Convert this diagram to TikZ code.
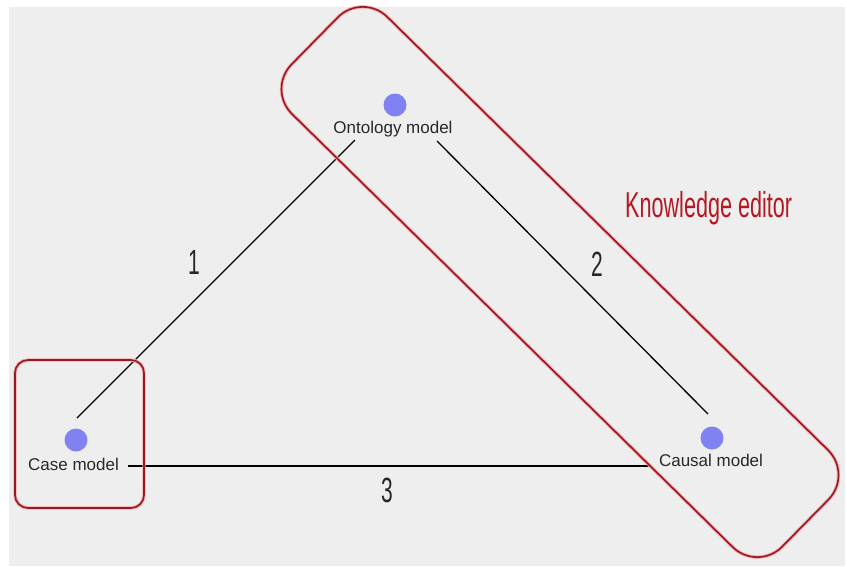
\documentclass[tikz,border=0pt]{standalone}
\usepackage{fontspec}
\setmainfont{Liberation Sans}
\newfontfamily\condfont[FakeStretch=0.6]{Liberation Sans}
\definecolor{bggray}{RGB}{238,238,238}
\definecolor{dotblue}{RGB}{128,130,242}
\definecolor{frame}{RGB}{150,25,35}
\definecolor{halo}{RGB}{245,170,170}
\definecolor{kered}{RGB}{180,25,35}
\definecolor{txt}{RGB}{40,40,40}
\tikzset{
  dotnode/.style={circle,fill=dotblue,inner sep=0pt,minimum size=23pt},
  lbl/.style={text=txt,font=\fontsize{17}{19}\selectfont,inner sep=2pt},
  num/.style={text=black!85,font=\condfont\fontsize{35}{40}\selectfont,inner sep=0pt},
  conn/.style={draw=black,line width=1.3pt},
  halobox/.style={draw=halo,line width=3.4pt},
  redbox/.style={draw=frame,line width=1.6pt},
}
\begin{document}
\begin{tikzpicture}[x=1pt,y=-1pt]
\useasboundingbox (0,0) rectangle (847,566);
\fill[white] (0,0) rectangle (847,566);
\fill[bggray] (9,7) rectangle (845,566);
% dots and labels
\node[dotnode] (ontdot) at (395,105) {};
\node[dotnode] (casedot) at (76,440) {};
\node[dotnode] (caudot) at (712,438) {};
\node[lbl,anchor=base] (onttxt) at (393,133) {Ontology model};
\node[lbl,anchor=base] (casetxt) at (73.5,470) {Case model};
\node[lbl,anchor=base] (cautxt) at (711,466) {Causal model};
% connector ends
\coordinate (e1a) at (77,418);
\coordinate (e1b) at (355,140);
\coordinate (e2a) at (437,141);
\coordinate (e2b) at (708,414);
\coordinate (e3a) at (128,466);
\coordinate (e3b) at (652,466);
\draw[conn] (e1a) -- (e1b);
\draw[conn] (e2a) -- (e2b);
\draw[conn] (e3a) -- (e3b);
% numbers
\node[num] (n1) at (194,262) {1};
\node[num] (n2) at (597,264) {2};
\node[num] (n3) at (387,490) {3};
% frames
\draw[halobox,rounded corners=13pt] (15,360) rectangle (144,508);
\draw[redbox,rounded corners=13pt] (15,360) rectangle (144,508);
\node[halobox,rectangle,rounded corners=35pt,minimum width=688pt,minimum height=136pt,rotate=-44.5] (kebox) at (560,282) {};
\node[redbox,rectangle,rounded corners=35pt,minimum width=688pt,minimum height=136pt,rotate=-44.5] (kebox2) at (560,282) {};
\node[text=kered,font=\condfont\fontsize{36}{40}\selectfont,anchor=base west,inner sep=0pt] (ke) at (625,217) {Knowledge editor};
\end{tikzpicture}
\end{document}
